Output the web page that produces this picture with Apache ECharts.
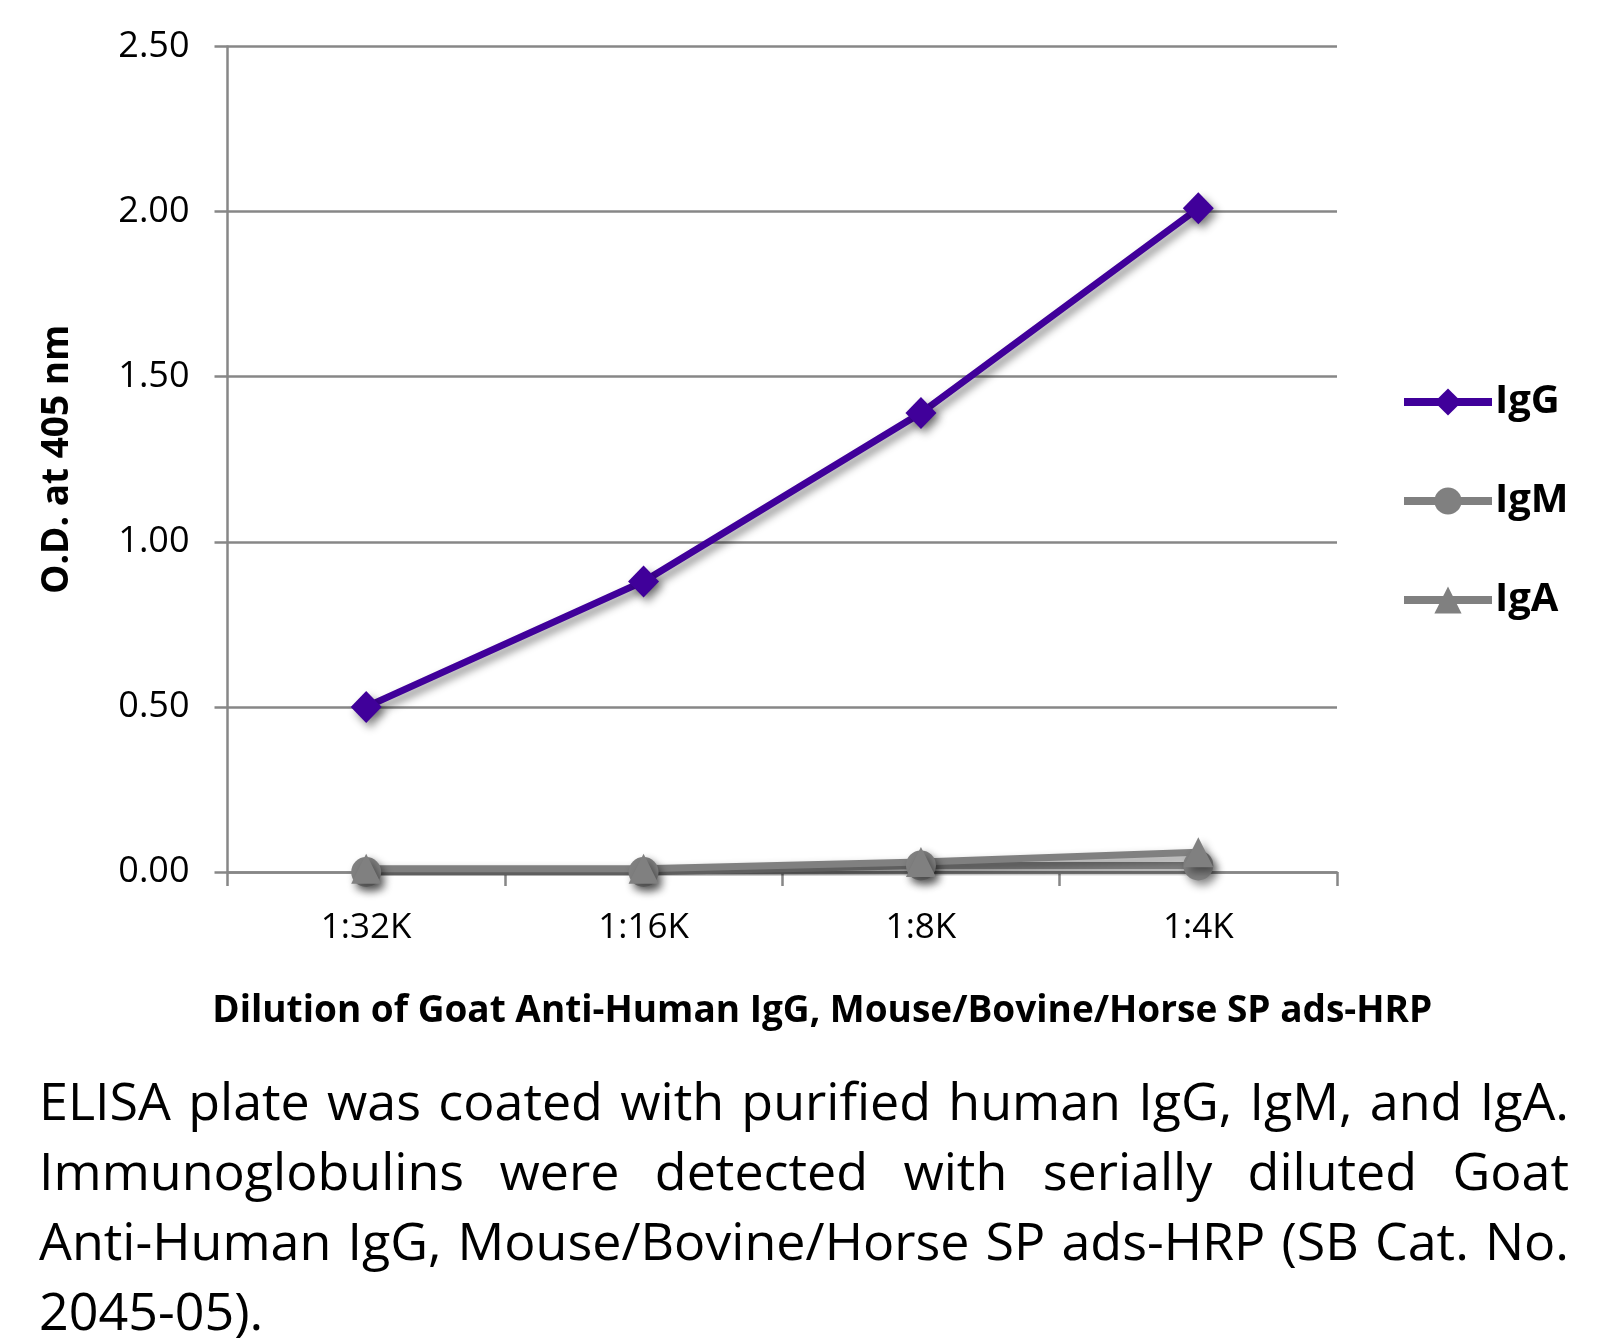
<!DOCTYPE html>
<html><head><meta charset="utf-8">
<script src="https://cdn.jsdelivr.net/npm/echarts@6/dist/echarts.min.js"></script>
<style>
html,body{margin:0;padding:0;background:#fff;width:1605px;height:1344px;overflow:hidden;}
#chart{position:absolute;left:0;top:0;width:1605px;height:1050px;}
#caption{position:absolute;left:39px;top:1065px;width:1530px;font-family:'Open Sans',sans-serif;font-size:52px;line-height:70px;color:#000;}
#caption .j{text-align:justify;text-align-last:justify;}
#caption .l{text-align:left;}
</style>
</head><body>
<div id="chart"></div>
<div id="caption">
<div class="j">ELISA plate was coated with purified human IgG, IgM, and IgA.</div>
<div class="j">Immunoglobulins were detected with serially diluted Goat</div>
<div class="j">Anti-Human IgG, Mouse/Bovine/Horse SP ads-HRP (SB Cat. No.</div>
<div class="l">2045-05).</div>
</div>
<script>
const categories = ['1:32K', '1:16K', '1:8K', '1:4K'];
const igG = [0.50, 0.88, 1.39, 2.01];
const igM = [0.00, 0.00, 0.02, 0.02];
const igA = [0.01, 0.01, 0.03, 0.06];
const yMin = 0, yMax = 2.5, yStep = 0.5;
const xTitle = 'Dilution of Goat Anti-Human IgG, Mouse/Bovine/Horse SP ads-HRP';
const yTitle = 'O.D. at 405 nm';

const FONT = 'Open Sans';
const AXIS_COLOR = '#878787';
const shadow = {shadowColor: 'rgba(0,0,0,0.45)', shadowBlur: 9, shadowOffsetX: 4, shadowOffsetY: 5};

function mkSeries(name, data, color, symbol, size) {
  return {
    name, type: 'line', data, symbol, symbolSize: size,
    lineStyle: Object.assign({color, width: 7}, shadow),
    itemStyle: Object.assign({color}, shadow),
    emphasis: {disabled: true},
    animation: false
  };
}

const chart = echarts.init(document.getElementById('chart'));
chart.setOption({
  backgroundColor: '#fff',
  animation: false,
  grid: {left: 227.5, top: 46.5, right: 268, bottom: 178, containLabel: false, outerBoundsMode: 'none'},
  legend: {
    orient: 'vertical', left: 1395, top: 377, padding: 5,
    itemWidth: 88, itemHeight: 34, itemGap: 59,
    data: ['IgG', 'IgM', 'IgA'],
    textStyle: {fontFamily: FONT, fontWeight: 'bold', fontSize: 40, color: '#000', padding: [0,0,0,-2]},
    itemStyle: {shadowBlur: 0, shadowOffsetX: 0, shadowOffsetY: 0, shadowColor: 'transparent'},
    lineStyle: {width: 8, shadowBlur: 0, shadowOffsetX: 0, shadowOffsetY: 0, shadowColor: 'transparent'}
  },
  xAxis: {
    type: 'category', data: categories, boundaryGap: true,
    axisLine: {show: true, lineStyle: {color: AXIS_COLOR, width: 2.5}},
    axisTick: {show: true, length: 14, lineStyle: {color: AXIS_COLOR, width: 2.5}},
    axisLabel: {margin: 39, fontFamily: FONT, fontSize: 35, color: '#000'},
    name: xTitle, nameLocation: 'middle', nameGap: 121,
    nameTextStyle: {fontFamily: FONT, fontWeight: 'bold', fontSize: 37, color: '#000', padding: [0,0,0,80]}
  },
  yAxis: {
    type: 'value', min: yMin, max: yMax, interval: yStep,
    axisLine: {show: true, lineStyle: {color: AXIS_COLOR, width: 2.5}},
    axisTick: {show: true, length: 13, lineStyle: {color: AXIS_COLOR, width: 2.5}},
    splitLine: {show: true, lineStyle: {color: AXIS_COLOR, width: 2.5}},
    axisLabel: {margin: 38, fontFamily: FONT, fontSize: 36, color: '#000', formatter: v => v.toFixed(2)},
    name: yTitle, nameLocation: 'middle', nameGap: 152,
    nameTextStyle: {fontFamily: FONT, fontWeight: 'bold', fontSize: 37, color: '#000'}
  },
  series: [
    mkSeries('IgG', igG, '#40009a', 'diamond', [31, 32]),
    mkSeries('IgM', igM, '#808080', 'circle', 30),
    mkSeries('IgA', igA, '#808080', 'triangle', 30)
  ]
});
</script>
</body></html>
